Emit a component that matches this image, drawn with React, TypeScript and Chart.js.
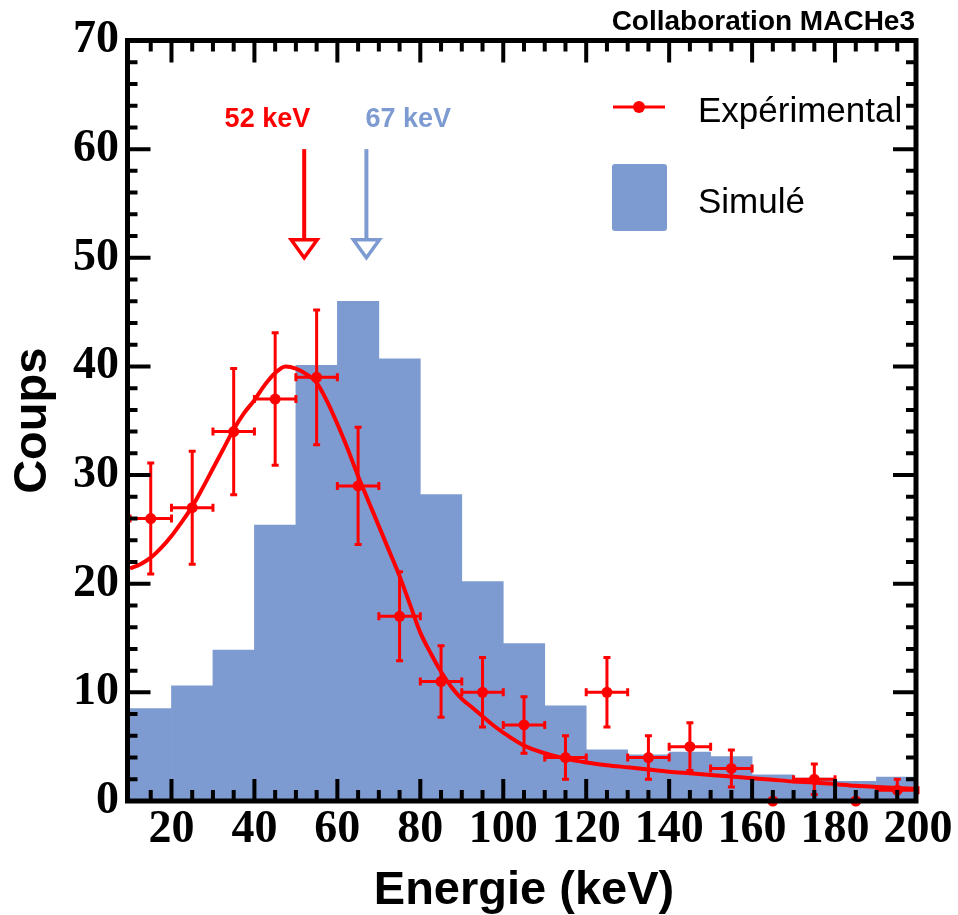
import React, { useEffect, useRef } from 'react';
import { Chart, registerables } from 'chart.js';

Chart.register(...registerables);

// ---------- data ----------
const binCenters = [15, 25, 35, 45, 55, 65, 75, 85, 95, 105, 115, 125, 135, 145, 155, 165, 175, 185, 195];
const simulatedCounts = [8.5, 10.6, 13.9, 25.4, 40.1, 46.0, 40.7, 28.2, 20.2, 14.5, 8.75, 4.7, 4.25, 4.5, 4.1, 2.4, 2.1, 1.8, 2.2];
const experimentalCounts = [26, 27, 34, 37, 39, 29, 17, 11, 10, 7, 4, 10, 4, 5, 3, 0, 2, 0, 1];
const experimentalErrors = [5.1, 5.2, 5.8, 6.1, 6.2, 5.4, 4.1, 3.3, 3.2, 2.6, 2.0, 3.2, 2.0, 2.2, 1.7, 0, 1.4, 0, 1.0];
const energyErrors = [5, 5, 5, 5, 5, 5, 5, 5, 5, 5, 5, 5, 5, 5, 5, 5, 5, 5, 5];

const fitEnergies = [10, 12.5, 15, 17.5, 20, 22.5, 25, 27.5, 30, 32.5, 35, 37.5, 40, 42.5, 45, 47.5, 50, 52.5, 55, 57.5, 60, 62.5, 65, 67.5, 70, 72.5, 75, 77.5, 80, 82.5, 85, 87.5, 90, 92.5, 95, 97.5, 100, 105, 110, 115, 120, 125, 130, 135, 140, 145, 150, 155, 160, 165, 170, 175, 180, 185, 190, 195, 200];
const fitCounts = [21.4, 21.8, 22.4, 23.3, 24.4, 25.7, 27.1, 28.8, 30.6, 32.4, 34.2, 35.7, 36.9, 38.3, 39.4, 40.0, 39.8, 39.3, 38.5, 36.8, 34.7, 32.4, 29.9, 27.6, 25.3, 23.0, 20.7, 18.1, 15.5, 13.6, 11.9, 10.5, 9.4, 8.6, 7.8, 7.0, 6.3, 5.1, 4.4, 3.9, 3.55, 3.3, 3.1, 2.9, 2.7, 2.55, 2.4, 2.25, 2.1, 1.95, 1.8, 1.7, 1.55, 1.4, 1.3, 1.2, 1.1];

const arrowEnergies = [52, 67];
const arrowLabels = ['52 keV', '67 keV'];
const arrowTopCount = 60;
const arrowTipCount = 50;

const xMin = 10, xMax = 200, xStep = 20, xMinorStep = 5;
const yMin = 0, yMax = 70, yStep = 10, yMinorStep = 2;

const RED = '#ff0000';
const BLUE = 'rgb(126,155,209)';
const arrowColors = [RED, BLUE];

const SANS = '"Liberation Sans", Arial, Helvetica, sans-serif';
const SERIF = '"Liberation Serif", "Times New Roman", serif';

const decorPlugin = {
  id: 'decor',
  afterDatasetsDraw(chart: any) {
    const { ctx, chartArea: ca } = chart;
    const xs = chart.scales.x;
    const ys = chart.scales.y;
    ctx.save();

    // error bars
    ctx.strokeStyle = RED;
    ctx.lineWidth = 3;
    binCenters.forEach((e, i) => {
      const c = experimentalCounts[i];
      if (c <= 0) return;
      const err = experimentalErrors[i];
      const px = xs.getPixelForValue(e);
      const py = ys.getPixelForValue(c);
      const xl = xs.getPixelForValue(e - energyErrors[i]);
      const xr = xs.getPixelForValue(e + energyErrors[i]);
      const yt = ys.getPixelForValue(c + err);
      const yb = ys.getPixelForValue(Math.max(c - err, 0));
      ctx.beginPath();
      ctx.moveTo(xl, py); ctx.lineTo(xr, py);
      ctx.moveTo(xl, py - 4); ctx.lineTo(xl, py + 4);
      ctx.moveTo(xr, py - 4); ctx.lineTo(xr, py + 4);
      ctx.moveTo(px, yt); ctx.lineTo(px, yb);
      ctx.moveTo(px - 3.5, yt); ctx.lineTo(px + 3.5, yt);
      ctx.moveTo(px - 3.5, yb); ctx.lineTo(px + 3.5, yb);
      ctx.stroke();
    });

    // frame
    const L = ca.left - 2.5, R = ca.right - 2, T = ca.top, B = ca.bottom;
    ctx.strokeStyle = '#000';
    ctx.lineWidth = 5;
    ctx.strokeRect(L, T, R - L, B - T);

    // inward ticks
    ctx.lineWidth = 4;
    ctx.beginPath();
    for (let v = yMin; v <= yMax; v += yMinorStep) {
      const py = ys.getPixelForValue(v);
      const len = v % yStep === 0 ? 23 : 10;
      ctx.moveTo(L, py); ctx.lineTo(L + len, py);
      ctx.moveTo(R, py); ctx.lineTo(R - len, py);
    }
    for (let v = xMin + xMinorStep; v < xMax; v += xMinorStep) {
      const px = xs.getPixelForValue(v);
      const len = v % xStep === 0 ? 22 : 11;
      ctx.moveTo(px, B); ctx.lineTo(px, B - len);
      ctx.moveTo(px, T); ctx.lineTo(px, T + len);
    }
    ctx.stroke();

    // arrows
    arrowEnergies.forEach((e, i) => {
      const col = arrowColors[i];
      const px = xs.getPixelForValue(e);
      const yTop = ys.getPixelForValue(arrowTopCount);
      const yTip = ys.getPixelForValue(arrowTipCount);
      const th = 18, hw = 13;
      ctx.strokeStyle = col;
      ctx.lineWidth = 4;
      ctx.beginPath();
      ctx.moveTo(px, yTop);
      ctx.lineTo(px, yTip - th);
      ctx.stroke();
      ctx.beginPath();
      ctx.moveTo(px - hw, yTip - th);
      ctx.lineTo(px + hw, yTip - th);
      ctx.lineTo(px, yTip);
      ctx.closePath();
      ctx.fillStyle = '#fff';
      ctx.fill();
      ctx.lineWidth = 3.5;
      ctx.stroke();
      ctx.fillStyle = col;
      ctx.font = `bold 27px ${SANS}`;
      ctx.textBaseline = 'alphabetic';
      ctx.textAlign = i === 0 ? 'right' : 'left';
      ctx.fillText(arrowLabels[i], i === 0 ? px + 6 : px - 1, yTop - 22);
    });

    // legend
    const ds = chart.data.datasets;
    ctx.strokeStyle = RED;
    ctx.lineWidth = 3;
    ctx.beginPath();
    ctx.moveTo(613, 107); ctx.lineTo(665, 107);
    ctx.stroke();
    ctx.fillStyle = RED;
    ctx.beginPath();
    ctx.arc(639, 107, 6, 0, Math.PI * 2);
    ctx.fill();
    ctx.fillStyle = BLUE;
    ctx.beginPath();
    if (ctx.roundRect) ctx.roundRect(612, 164, 55, 67, 3); else ctx.rect(612, 164, 55, 67);
    ctx.fill();
    ctx.fillStyle = '#000';
    ctx.font = `35px ${SANS}`;
    ctx.textAlign = 'left';
    ctx.textBaseline = 'alphabetic';
    ctx.fillText(ds[0].label, 698, 122);
    ctx.fillText(ds[2].label, 698, 213);

    // collaboration label
    ctx.font = `bold 28px ${SANS}`;
    ctx.textAlign = 'right';
    ctx.fillText('Collaboration MACHe3', 915, 30);

    ctx.restore();
  },
};

export default function App() {
  const ref = useRef<HTMLCanvasElement>(null);

  useEffect(() => {
    document.body.style.margin = '0';
    const canvas = ref.current;
    if (!canvas) return;

    const chart = new Chart(canvas, {
      type: 'scatter',
      data: {
        datasets: [
          {
            type: 'scatter',
            label: 'Expérimental',
            data: binCenters.map((x, i) => ({ x, y: experimentalCounts[i] })),
            backgroundColor: RED,
            borderColor: RED,
            borderWidth: 0,
            pointRadius: 5.5,
            pointHoverRadius: 5.5,
            showLine: false,
            clip: false,
            order: 0,
          } as any,
          {
            type: 'line',
            label: 'Ajustement',
            data: fitEnergies.map((x, i) => ({ x, y: fitCounts[i] })),
            borderColor: RED,
            borderWidth: 4,
            pointRadius: 0,
            fill: false,
            tension: 0.4,
            cubicInterpolationMode: 'monotone',
            order: 1,
          } as any,
          {
            type: 'bar',
            label: 'Simulé',
            data: binCenters.map((x, i) => ({ x, y: simulatedCounts[i] })),
            backgroundColor: BLUE,
            borderWidth: 0,
            barPercentage: 1,
            categoryPercentage: 1,
            order: 2,
          } as any,
        ],
      },
      options: {
        animation: false,
        responsive: false,
        devicePixelRatio: 1,
        events: [],
        layout: { padding: { top: 40.5, right: 40, left: 0, bottom: 0 } },
        plugins: {
          legend: { display: false },
          tooltip: { enabled: false },
          title: { display: false },
        },
        scales: {
          x: {
            type: 'linear',
            min: xMin,
            max: xMax,
            offset: false,
            afterFit: (s: any) => { s.height = 114; },
            grid: { display: false, drawTicks: false },
            border: { display: false },
            ticks: {
              stepSize: xStep,
              includeBounds: false,
              autoSkip: false,
              maxRotation: 0,
              padding: 2,
              color: '#000',
              font: { family: SERIF, weight: 'bold', size: 46, lineHeight: 1.2 },
            },
            title: {
              display: true,
              text: 'Energie (keV)',
              color: '#000',
              font: { family: SANS, weight: 'bold', size: 47, lineHeight: 1 },
              padding: { top: 0, bottom: 0 },
            },
          },
          y: {
            type: 'linear',
            min: yMin,
            max: yMax,
            afterFit: (s: any) => { s.width = 130; },
            grid: { display: false, drawTicks: false },
            border: { display: false },
            ticks: {
              stepSize: yStep,
              padding: 11,
              color: '#000',
              font: { family: SERIF, weight: 'bold', size: 46, lineHeight: 1.2 },
            },
            title: {
              display: true,
              text: 'Coups',
              color: '#000',
              font: { family: SANS, weight: 'bold', size: 47, lineHeight: 1 },
              padding: { top: 10, bottom: 0 },
            },
          },
        },
      } as any,
      plugins: [decorPlugin],
    });

    return () => chart.destroy();
  }, []);

  return (
    <div style={{ width: 958, height: 915 }}>
      <canvas ref={ref} width={958} height={915} style={{ display: 'block' }} />
    </div>
  );
}
